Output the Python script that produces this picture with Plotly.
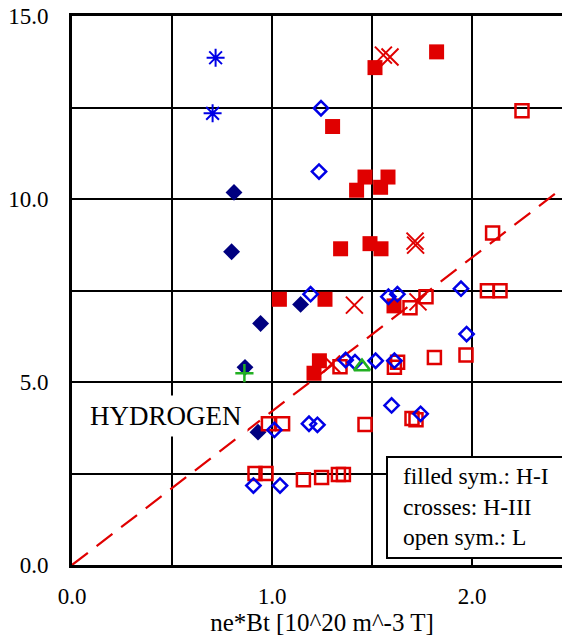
import plotly.graph_objects as go

# ---- data ----
h1_diamond_x = [0.81, 0.798, 1.143, 0.943, 0.865, 0.93]
h1_diamond_y = [10.18, 8.56, 7.12, 6.60, 5.40, 3.63]

h1_square_x = [1.823, 1.515, 1.303, 1.465, 1.423, 1.58, 1.543, 1.343, 1.49, 1.545,
               1.037, 1.265, 1.61, 1.237, 1.21]
h1_square_y = [14.02, 13.59, 11.98, 10.60, 10.24, 10.60, 10.32, 8.64, 8.78, 8.64,
               7.26, 7.26, 7.08, 5.58, 5.24]

h3_x_x = [1.557, 1.59, 1.715, 1.718, 1.412, 1.73, 1.298]
h3_x_y = [13.93, 13.88, 8.85, 8.74, 7.10, 7.19, 5.49]

h3_star_x = [0.718, 0.703]
h3_star_y = [13.86, 12.34]

h3_plus_x = [0.862]
h3_plus_y = [5.24]

l_square_x = [2.25, 2.103, 2.077, 2.14, 1.77, 1.69, 1.628, 1.612, 1.812, 1.97,
              1.465, 1.70, 1.72, 0.982, 1.053, 0.915, 0.97, 1.157, 1.248, 1.332,
              1.357, 1.34]
l_square_y = [12.41, 9.07, 7.49, 7.49, 7.33, 7.03, 5.54, 5.40, 5.67, 5.74,
              3.84, 4.00, 3.97, 3.86, 3.86, 2.50, 2.50, 2.33, 2.39, 2.47,
              2.47, 5.42]

l_diamond_x = [1.245, 1.235, 1.193, 1.582, 1.627, 1.945, 1.973, 1.368, 1.415, 1.518,
               1.612, 1.598, 1.743, 1.185, 1.227, 1.012, 0.907, 1.04]
l_diamond_y = [12.48, 10.75, 7.40, 7.33, 7.40, 7.55, 6.31, 5.60, 5.54, 5.58,
               5.58, 4.36, 4.13, 3.86, 3.83, 3.69, 2.17, 2.17]

l_triangle_x = [1.45]
l_triangle_y = [5.42]

fit_x = [0.0, 2.5]
fit_y = [0.0, 10.5]

x_tickvals = [0, 0.5, 1.0, 1.5, 2.0, 2.5]
x_ticktext = ["0.0", "", "1.0", "", "2.0", ""]
y_tickvals = [0, 2.5, 5, 7.5, 10, 12.5, 15]
y_ticktext = ["0.0", "", "5.0", "", "10.0", "", "15.0"]

RED = "#e00000"
BLUE = "#0000e6"
NAVY = "#000080"
GREEN = "#22b022"
FONT = "Liberation Serif"

PLOT_W = 570 - 64 - 6
PLOT_H = 641 - 8 - 84

fig = go.Figure()

fig.add_trace(go.Scatter(x=fit_x, y=fit_y, mode="lines",
                         line=dict(color=RED, width=2.2, dash="20px,11px"),
                         showlegend=False, hoverinfo="skip"))
fig.add_trace(go.Scatter(x=h1_diamond_x, y=h1_diamond_y, mode="markers",
                         marker=dict(symbol="diamond", size=13, color=NAVY,
                                     line=dict(width=0)), showlegend=False))
fig.add_trace(go.Scatter(x=h1_square_x, y=h1_square_y, mode="markers",
                         marker=dict(symbol="square", size=15, color=RED,
                                     line=dict(width=0)), showlegend=False))
fig.add_trace(go.Scatter(x=h3_x_x, y=h3_x_y, mode="markers",
                         marker=dict(symbol="x-thin-open", size=17, color=RED,
                                     line=dict(color=RED, width=2)), showlegend=False))
fig.add_trace(go.Scatter(x=l_square_x, y=l_square_y, mode="markers",
                         marker=dict(symbol="square-open", size=13, color=RED,
                                     line=dict(color=RED, width=2.5)), showlegend=False))
fig.add_trace(go.Scatter(x=l_diamond_x, y=l_diamond_y, mode="markers",
                         marker=dict(symbol="diamond-open", size=11, color=BLUE,
                                     line=dict(color=BLUE, width=2.5)), showlegend=False))
fig.add_trace(go.Scatter(x=l_triangle_x, y=l_triangle_y, mode="markers",
                         marker=dict(symbol="triangle-up-open", size=14, color=GREEN,
                                     line=dict(color=GREEN, width=2.5)), showlegend=False))
fig.add_trace(go.Scatter(x=h3_plus_x, y=h3_plus_y, mode="markers",
                         marker=dict(symbol="cross-thin-open", size=13, color=GREEN,
                                     line=dict(color=GREEN, width=2.5)), showlegend=False))
fig.add_trace(go.Scatter(x=h3_star_x, y=h3_star_y, mode="markers",
                         marker=dict(symbol="asterisk-open", size=15, color=BLUE,
                                     line=dict(color=BLUE, width=2)), showlegend=False))

axis_common = dict(showgrid=True, gridcolor="black", gridwidth=2,
                   showline=True, linecolor="black", linewidth=3, automargin=False,
                   ticklabeloverflow="allow",
                   zeroline=False, ticks="", tickfont=dict(family=FONT, size=23, color="black"))

fig.update_xaxes(range=[0, 2.5], tickmode="array", tickvals=x_tickvals, ticktext=x_ticktext,
                 mirror=True, ticklabelstandoff=8,
                 title=dict(text="ne*Bt [10^20 m^-3 T]", font=dict(family=FONT, size=25, color="black"),
                            standoff=5),
                 **axis_common)
fig.update_yaxes(range=[0, 15], tickmode="array", tickvals=y_tickvals, ticktext=y_ticktext,
                 ticklabelstandoff=16, **axis_common)

fig.add_annotation(x=0.47, y=4.08, xref="x", yref="y", text="HYDROGEN", showarrow=False,
                   font=dict(family=FONT, size=27, color="black"), bgcolor="white", borderpad=5)

# note box in the lower right (screen px: plot left 72, plot bottom 565)
fig.add_shape(type="rect", xref="paper", yref="paper",
              x0=(387 - 72) / PLOT_W, x1=(569 - 72) / PLOT_W,
              y0=(565 - 558) / PLOT_H, y1=(565 - 457) / PLOT_H,
              line=dict(color="black", width=2), fillcolor="white", layer="above")
fig.add_annotation(x=(401 - 72) / PLOT_W, y=(565 - 506) / PLOT_H, xref="paper", yref="paper",
                   xanchor="left", yanchor="middle", align="left", showarrow=False,
                   text="filled sym.: H-I<br>crosses: H-III<br>open sym.: L",
                   font=dict(family=FONT, size=23.5, color="black"))

fig.update_layout(width=570, height=641, margin=dict(l=64, r=6, t=8, b=84),
                  plot_bgcolor="white", paper_bgcolor="white", showlegend=False)

fig.write_html("out.html")
